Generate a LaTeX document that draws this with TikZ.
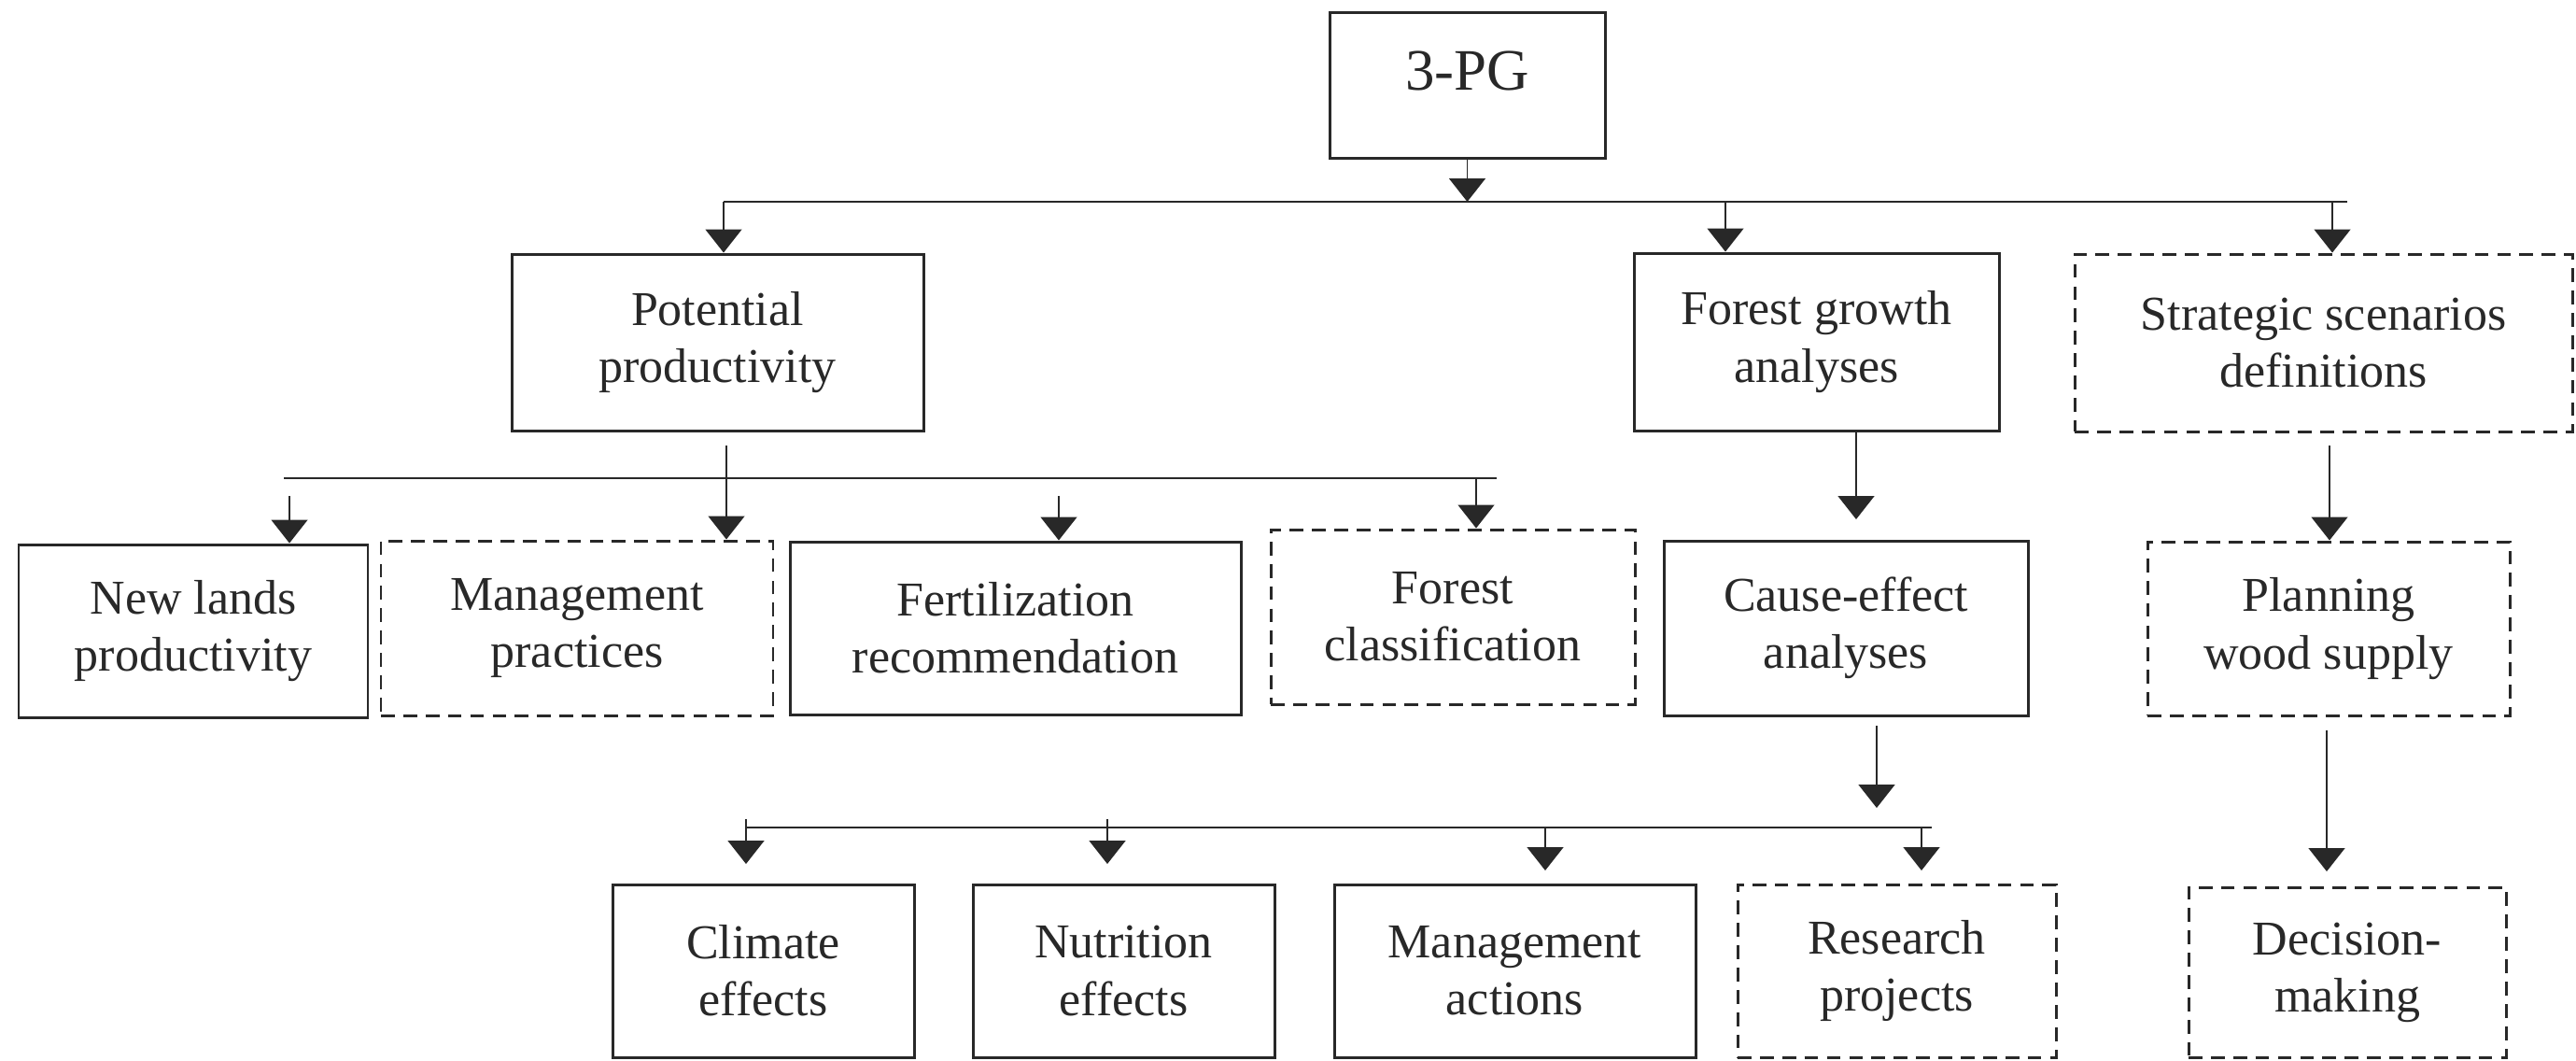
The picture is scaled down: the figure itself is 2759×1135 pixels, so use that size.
\documentclass[tikz,border=0pt]{standalone}
\usepackage{fontspec}
\setmainfont{Liberation Serif}
\usetikzlibrary{arrows.meta}
\definecolor{ink}{RGB}{40,40,40}
\begin{document}
\begin{tikzpicture}[x=0.1mm,y=-0.1mm,
  box/.style={draw=ink, line width=0.85pt, text=ink, align=center, inner sep=0pt,
    font=\fontsize{14.8pt}{17.4pt}\selectfont},
  solidbox/.style={box},
  dashbox/.style={box, dash pattern=on 4.2pt off 2.6pt},
  bus/.style={draw=ink, line width=0.8pt},
  arr/.style={draw=ink, line width=0.45pt, -{Triangle[width=3.9mm,length=2.5mm]}},
]
\useasboundingbox (0,0) rectangle (2759,1135);

% root
\node[solidbox, minimum width=29.5mm, minimum height=15.6mm, text depth=3mm,
      font=\fontsize{17.9pt}{20pt}\selectfont] (pg) at (1571.5,91) {3-PG};

% first level
\node[solidbox, minimum width=44.1mm, minimum height=18.9mm] (pot) at (768.5,366.5) {Potential\\productivity};
\node[solidbox, minimum width=39.1mm, minimum height=19mm] (fg) at (1945.5,366) {Forest growth\\analyses};
\node[dashbox, minimum width=53.3mm, minimum height=19mm] (str) at (2488.5,367) {Strategic scenarios\\definitions};

% second level
\node[solidbox, minimum width=37.4mm, minimum height=18.5mm] (nl) at (207,675.5) {New lands\\productivity};
\node[dashbox, minimum width=42mm, minimum height=18.7mm] (mp) at (618,672.5) {Management\\practices};
\node[solidbox, minimum width=48.3mm, minimum height=18.5mm] (fert) at (1087.5,672.5) {Fertilization\\recommendation};
\node[dashbox, minimum width=39mm, minimum height=18.7mm] (fc) at (1556,660.5) {Forest\\classification};
\node[solidbox, minimum width=39mm, minimum height=18.7mm] (ce) at (1977,672.5) {Cause-effect\\analyses};
\node[dashbox, minimum width=38.8mm, minimum height=18.6mm] (pws) at (2494,673) {Planning\\wood supply};

% third level
\node[solidbox, minimum width=32.3mm, minimum height=18.5mm] (clim) at (817.5,1039.5) {Climate\\effects};
\node[solidbox, minimum width=32.3mm, minimum height=18.5mm] (nut) at (1203.5,1039.5) {Nutrition\\effects};
\node[solidbox, minimum width=38.7mm, minimum height=18.5mm] (ma) at (1622.5,1039.5) {Management\\actions};
\node[dashbox, minimum width=34.1mm, minimum height=18.5mm] (rp) at (2031.5,1039.5) {Research\\projects};
\node[dashbox, minimum width=34mm, minimum height=18.2mm] (dm) at (2514,1041) {Decision-\\making};

% distribution bars
\coordinate (b1L) at (775,216);  \coordinate (b1R) at (2514,216);
\coordinate (b2L) at (304,512);  \coordinate (b2R) at (1603,512);
\coordinate (b3L) at (799,886);  \coordinate (b3R) at (2069,886);
\draw[bus] (b1L) -- (b1R);
\draw[bus] (b2L) -- (b2R);
\draw[bus] (b3L) -- (b3R);

% root to first bar and first level
\draw[arr] (pg.south) -- (pg.south |- b1L);
\coordinate (a1) at (1848,216);
\coordinate (a2) at (2498,216);
\draw[arr] (b1L) -- (b1L |- pot.north);
\draw[arr] (a1) -- (a1 |- fg.north);
\draw[arr] (a2) -- (a2 |- str.north);

% potential productivity branch
\coordinate (p0) at (778,477);
\coordinate (q1) at (310,531);
\coordinate (q3) at (1134,531);
\coordinate (q4) at (1581,512);
\draw[arr] (p0) -- (p0 |- mp.north);
\draw[arr] (q1) -- (q1 |- nl.north);
\draw[arr] (q3) -- (q3 |- fert.north);
\draw[arr] (q4) -- (q4 |- fc.north);

% forest growth branch
\coordinate (r1) at (1988,556);
\draw[arr] (fg.south -| r1) -- (r1);
\coordinate (t0) at (2010,777);
\coordinate (t1) at (2010,865);
\draw[arr] (t0) -- (t1);
\coordinate (u1s) at (799,877);  \coordinate (u1) at (799,925);
\coordinate (u2s) at (1186,877); \coordinate (u2) at (1186,925);
\coordinate (u3s) at (1655,886); \coordinate (u3) at (1655,932);
\coordinate (u4s) at (2058,886); \coordinate (u4) at (2058,932);
\draw[arr] (u1s) -- (u1);
\draw[arr] (u2s) -- (u2);
\draw[arr] (u3s) -- (u3);
\draw[arr] (u4s) -- (u4);

% strategic branch
\coordinate (s1) at (2495,477);
\draw[arr] (s1) -- (s1 |- pws.north);
\coordinate (s2) at (2492,782);
\coordinate (s3) at (2492,933);
\draw[arr] (s2) -- (s3);
\end{tikzpicture}
\end{document}
